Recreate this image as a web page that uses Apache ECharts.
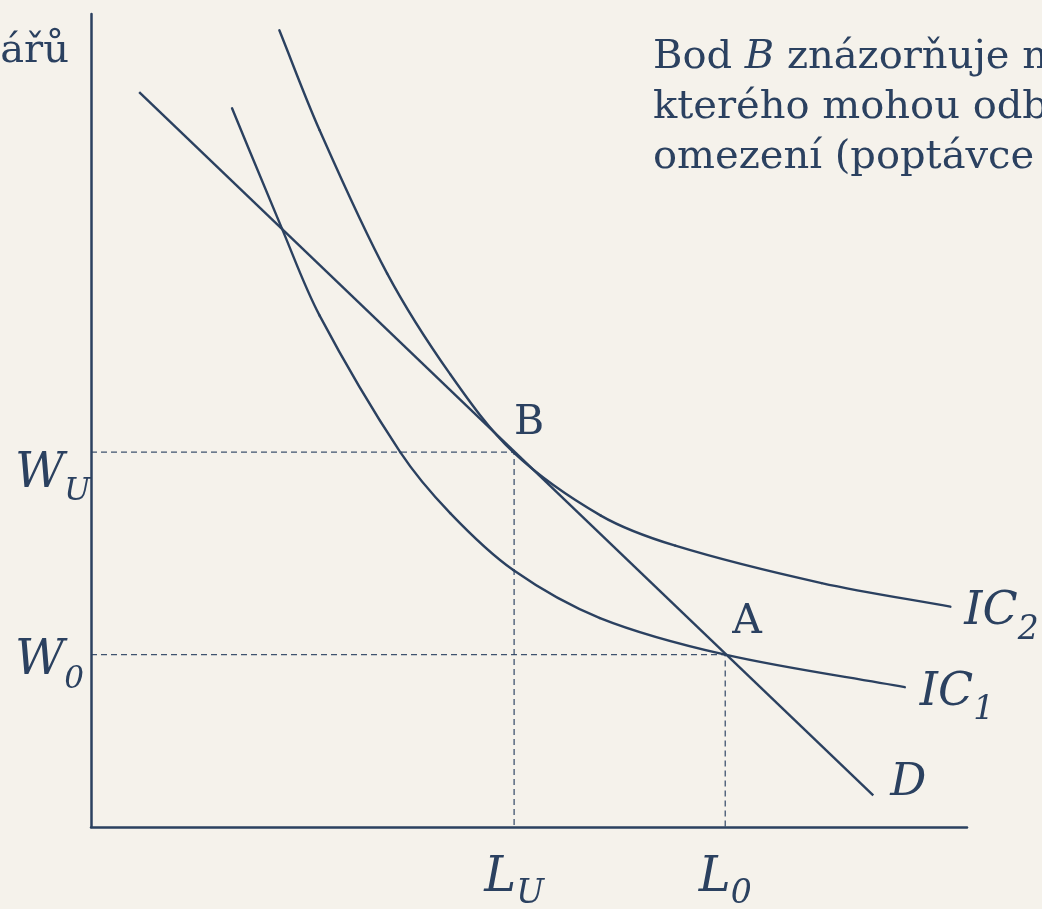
<!DOCTYPE html>
<html>
<head>
<meta charset="utf-8">
<title>Odbory – indiferenční křivky</title>
<script src="https://cdn.jsdelivr.net/npm/echarts@6/dist/echarts.min.js"></script>
<style>
  html, body { margin: 0; padding: 0; background: #f5f2eb; }
  #chart { width: 1042px; height: 909px; }
</style>
</head>
<body>
<div id="chart"></div>
<script>
// values (x: práce L, y: mzda W)
var demandD = [[5.5, 90.4], [89.3, 3.9]];
var curveIC1 = [
  [16.1, 88.4], [21.8, 73.6], [26.1, 62.9], [35.3, 46.1], [41.0, 38.6],
  [48.2, 31.6], [58.1, 25.7], [72.4, 21.2], [92.9, 17.2]
];
var curveIC2 = [
  [21.5, 98.0], [26.1, 85.7], [33.8, 68.1], [41.0, 55.7], [48.2, 46.1],
  [58.2, 38.3], [66.7, 34.6], [83.4, 30.0], [98.1, 27.1]
];
var lU = 48.3, l0 = 72.4;
var wU = 46.1, w0 = 21.2;
var pointNames = ["B", "A"];
var points = [[lU, wU], [l0, w0]];

var ink = "#2b4160";
var serif = "DejaVu Serif";

var chart = echarts.init(document.getElementById("chart"));

function tok(size, italic, padTop, lh) {
  return {
    fontFamily: serif,
    fontSize: size,
    fontStyle: italic ? "italic" : "normal",
    color: ink,
    lineHeight: lh || size,
    verticalAlign: "top",
    padding: [padTop || 0, 0, 0, 0]
  };
}

function dist(a, b) {
  return Math.sqrt((a[0] - b[0]) * (a[0] - b[0]) + (a[1] - b[1]) * (a[1] - b[1]));
}

// smooth curve through the read points (catmull-rom like, in pixel space)
function curveSeries(name, pts) {
  return {
    name: name,
    type: "custom",
    coordinateSystem: "cartesian2d",
    silent: true,
    data: [pts[0]],
    renderItem: function(params, api) {
      var c = pts.map(function(p) {
        return api.coord(p);
      });
      var kids = [];
      for (var i = 0; i < c.length - 1; i++) {
        var p0 = c[i - 1] || c[i];
        var p1 = c[i];
        var p2 = c[i + 1];
        var p3 = c[i + 2] || c[i + 1];
        var d01 = dist(p0, p1), d12 = dist(p1, p2), d23 = dist(p2, p3);
        var k1 = d12 / (3 * (d01 + d12));
        var k2 = d12 / (3 * (d12 + d23));
        kids.push({
          type: "bezierCurve",
          shape: {
            x1: p1[0], y1: p1[1],
            x2: p2[0], y2: p2[1],
            cpx1: p1[0] + (p2[0] - p0[0]) * k1,
            cpy1: p1[1] + (p2[1] - p0[1]) * k1,
            cpx2: p2[0] - (p3[0] - p1[0]) * k2,
            cpy2: p2[1] - (p3[1] - p1[1]) * k2
          },
          style: { stroke: ink, lineWidth: 2.4, fill: "none", lineCap: "round" }
        });
      }
      return { type: "group", children: kids };
    }
  };
}

function lastOf(arr) {
  return arr[arr.length - 1];
}

var labelItems = [
  { value: points[0], text: pointNames[0], offset: [0, -29], rich: { m: tok(41, false, 0) } },
  { value: points[1], text: pointNames[1], offset: [7, -32], rich: { m: tok(41, false, 0) } },
  { value: lastOf(demandD), text: "D", offset: [17, -12], rich: { m: tok(45, true, 0) } },
  { value: lastOf(curveIC1), text: "IC", sub: "1", offset: [15, 6],
    rich: { m: tok(46, true, 0), s: tok(33, true, 24) } },
  { value: lastOf(curveIC2), text: "IC", sub: "2", offset: [14, 5],
    rich: { m: tok(46, true, 0), s: tok(33, true, 25) } }
];

var option = {
  backgroundColor: "#f5f2eb",
  animation: false,
  grid: {
    left: 91,
    right: 75,
    top: 14,
    bottom: 82,
    containLabel: false,
    outerBoundsMode: "none"
  },
  xAxis: {
    type: "value",
    min: 0,
    max: 100,
    splitLine: { show: false },
    axisTick: { show: false },
    axisLine: { show: true, onZero: false, lineStyle: { color: ink, width: 2.5 } },
    axisLabel: {
      show: true,
      customValues: [lU, l0],
      margin: 28,
      formatter: function(v) {
        return v === lU ? "{m|L}{s|U}" : "{m|L}{s|0}";
      },
      rich: {
        m: tok(48, true, 0),
        s: tok(33, true, 23)
      }
    }
  },
  yAxis: {
    type: "value",
    min: 0,
    max: 100,
    splitLine: { show: false },
    axisTick: { show: false },
    axisLine: { show: true, onZero: false, lineStyle: { color: ink, width: 2.5 } },
    axisLabel: {
      show: true,
      customValues: [w0, wU],
      margin: 76,
      align: "left",
      formatter: function(v) {
        return v === wU ? "{mu|W}{su|U}" : "{m0|W}{s0|0}";
      },
      rich: {
        mu: tok(48, true, 22),
        su: tok(31, true, 22 + 26),
        m0: tok(48, true, 7),
        s0: tok(31, true, 7 + 27)
      }
    }
  },
  graphic: [
    {
      type: "text",
      x: 69,
      y: 52,
      style: {
        text: "ářů",
        fontFamily: serif,
        fontSize: 40,
        fill: ink,
        align: "right",
        verticalAlign: "middle"
      }
    },
    {
      type: "text",
      x: 653,
      y: 33,
      style: {
        text: "Bod {i|B} znázorňuje n\nkterého mohou odb\nomezení (poptávce",
        fontFamily: serif,
        fontSize: 40,
        lineHeight: 50,
        fill: ink,
        align: "left",
        verticalAlign: "top",
        rich: {
          i: { fontFamily: serif, fontSize: 40, lineHeight: 50, fontStyle: "italic", fill: ink }
        }
      }
    }
  ],
  series: [
    {
      name: "guideB",
      type: "line",
      data: [[0, wU], [lU, wU], [lU, 0]],
      showSymbol: false,
      lineStyle: { color: ink, width: 1.3, type: [6, 4], opacity: 0.9 }
    },
    {
      name: "guideA",
      type: "line",
      data: [[0, w0], [l0, w0], [l0, 0]],
      showSymbol: false,
      lineStyle: { color: ink, width: 1.3, type: [6, 4], opacity: 0.9 }
    },
    {
      name: "D",
      type: "line",
      data: demandD,
      showSymbol: false,
      lineStyle: { color: ink, width: 2.4 }
    },
    curveSeries("IC1", curveIC1),
    curveSeries("IC2", curveIC2),
    {
      name: "labels",
      type: "scatter",
      symbolSize: 0,
      itemStyle: { opacity: 1 },
      data: labelItems.map(function(it) {
        return {
          value: it.value,
          label: {
            show: true,
            position: "right",
            distance: 0,
            offset: it.offset,
            formatter: "{m|" + it.text + "}" + (it.sub ? "{s|" + it.sub + "}" : ""),
            rich: it.rich
          }
        };
      })
    }
  ]
};

chart.setOption(option);
</script>
</body>
</html>
